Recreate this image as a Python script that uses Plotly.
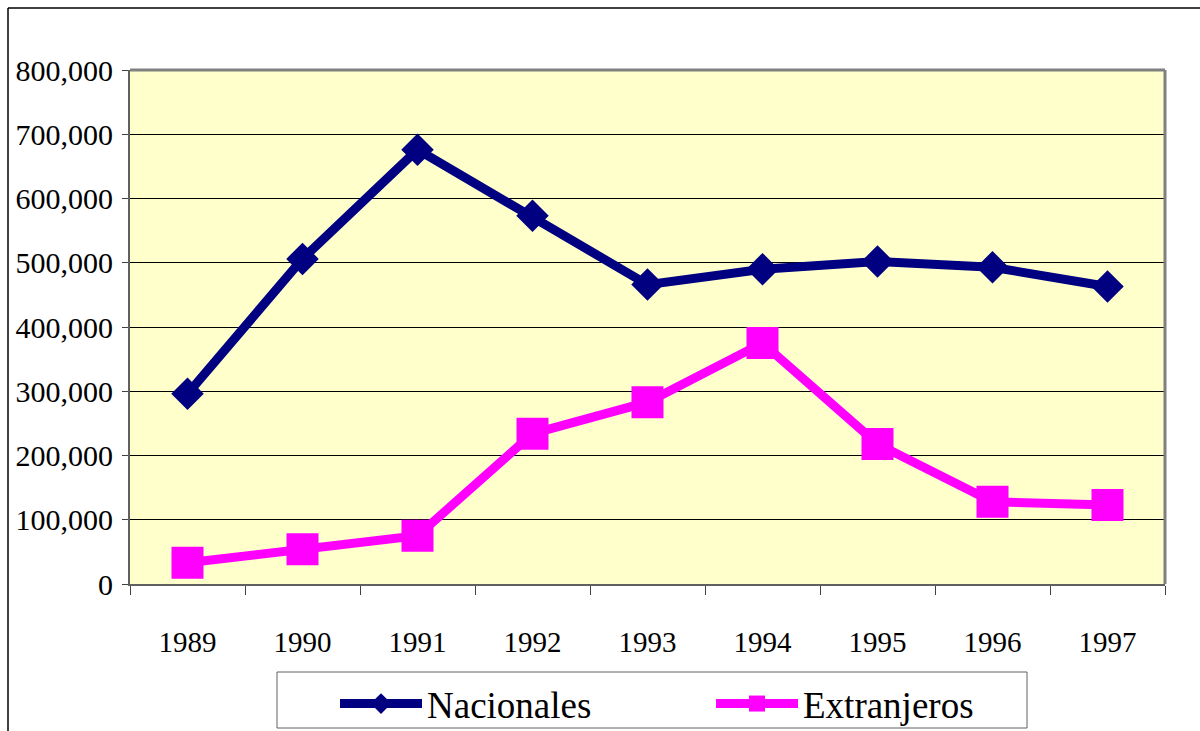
import plotly.graph_objects as go

years = ["1989", "1990", "1991", "1992", "1993", "1994", "1995", "1996", "1997"]
nacionales = [296000, 506000, 676000, 573000, 466000, 490000, 502000, 493000, 463000]
extranjeros = [33000, 54000, 75000, 234000, 283000, 375000, 218000, 128000, 123000]
y_ticks = [0, 100000, 200000, 300000, 400000, 500000, 600000, 700000, 800000]
y_tick_text = ["0", "100,000", "200,000", "300,000", "400,000", "500,000", "600,000", "700,000", "800,000"]

SERIF = "Liberation Serif, Times New Roman, serif"

fig = go.Figure()
fig.add_trace(go.Scatter(
    x=years, y=nacionales, name="Nacionales", mode="lines+markers",
    line=dict(color="#000080", width=9),
    marker=dict(symbol="diamond", size=25, color="#000080"),
))
fig.add_trace(go.Scatter(
    x=years, y=extranjeros, name="Extranjeros", mode="lines+markers",
    line=dict(color="#FF00FF", width=9),
    marker=dict(symbol="square", size=32, color="#FF00FF"),
))

L, R, T, B = 130, 35, 70, 147
W, H = 1200, 731
pw, ph = W - L - R, H - T - B

def px_x(p):
    return (p - L) / pw

def px_y(p):
    return (H - B - p) / ph

fig.update_layout(
    width=W, height=H,
    margin=dict(l=L, r=R, t=T, b=B, pad=0, autoexpand=False),
    paper_bgcolor="white",
    plot_bgcolor="#FFFFCC",
    font=dict(family=SERIF, color="black"),
    showlegend=True,
    legend=dict(
        orientation="h", x=px_x(335), y=px_y(673), xanchor="left", yanchor="top",
        bgcolor="rgba(0,0,0,0)", borderwidth=0,
        font=dict(family=SERIF, size=37, color="black"),
        entrywidth=279, entrywidthmode="pixels", itemwidth=82,
    ),
    xaxis=dict(
        type="category", categoryorder="array", categoryarray=years,
        tickson="boundaries", ticks="outside", ticklen=9, tickcolor="#404040", tickwidth=1,
        showline=True, linecolor="#606060", linewidth=2,
        showgrid=False, zeroline=False, automargin=False,
        tickfont=dict(family=SERIF, size=29, color="black"),
        ticklabelstandoff=31,
        range=[-0.5, 8.5],
    ),
    yaxis=dict(
        range=[0, 800000], tickvals=y_ticks, ticktext=y_tick_text,
        ticks="outside", ticklen=6, tickcolor="#404040", tickwidth=1,
        showline=True, linecolor="#606060", linewidth=2,
        showgrid=True, gridcolor="#000000", gridwidth=1, zeroline=False, automargin=False,
        tickfont=dict(family=SERIF, size=30, color="black"),
        ticklabelstandoff=3,
    ),
    shapes=[
        # top and right plot border
        dict(type="line", xref="paper", yref="paper", x0=0, x1=1, y0=1, y1=1,
             line=dict(color="#808080", width=3)),
        dict(type="line", xref="paper", yref="paper", x0=1, x1=1, y0=0, y1=1,
             line=dict(color="#808080", width=3)),
        # outer chart border (top and left, continues off-canvas)
        dict(type="line", xref="paper", yref="paper", x0=px_x(8), x1=px_x(1210), y0=px_y(8), y1=px_y(8),
             line=dict(color="#000000", width=1.5)),
        dict(type="line", xref="paper", yref="paper", x0=px_x(8), x1=px_x(8), y0=px_y(8), y1=px_y(745),
             line=dict(color="#000000", width=1.5)),
        # legend box
        dict(type="rect", xref="paper", yref="paper", x0=px_x(277), x1=px_x(1027), y0=px_y(672), y1=px_y(728),
             line=dict(color="#606060", width=1), fillcolor="white", layer="below"),
    ],
)

fig.write_html(
    "out.html",
    config={"displayModeBar": False},
    post_script="document.body.style.margin='0px'; document.body.style.overflow='hidden';",
)
